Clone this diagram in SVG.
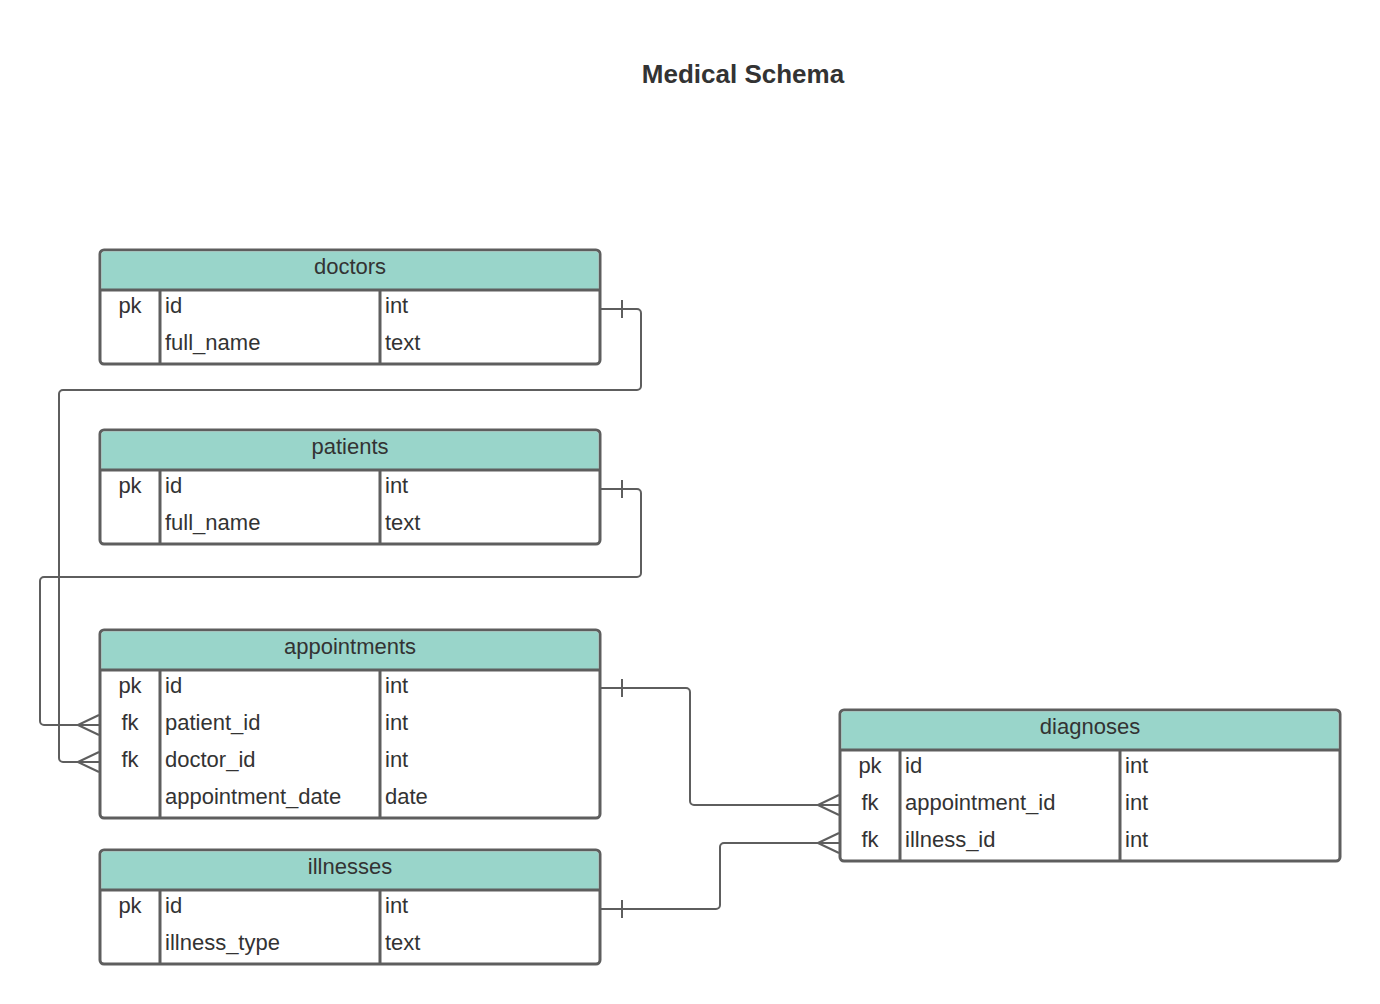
<svg xmlns="http://www.w3.org/2000/svg" width="1380" height="1004" viewBox="0 0 1380 1004">
<style>
.box{fill:#ffffff;stroke:#5e5e5e;stroke-width:3}
.hdr{fill:#99d5ca}
.ln{stroke:#5e5e5e;stroke-width:3;fill:none}
.c{stroke:#5e5e5e;stroke-width:2;fill:none}
text{font-family:"Liberation Sans",Arial,sans-serif;font-size:22px;fill:#333333}
.h{text-anchor:middle}
.t{font-size:26px;font-weight:bold;text-anchor:middle}
</style>
<rect width="1380" height="1004" fill="#ffffff"/>
<text class="t" x="743" y="83">Medical Schema</text>

<g id="doctors">
<rect class="box" x="100" y="250" width="500" height="114" rx="4"/>
<path class="hdr" d="M104 251.5h492a2.5 2.5 0 0 1 2.5 2.5v36h-497v-36a2.5 2.5 0 0 1 2.5-2.5z"/>
<path class="ln" d="M100 290h500M160 290v74M380 290v74"/>
<text class="h" x="350" y="274">doctors</text>
<text class="h" x="130" y="313">pk</text><text x="165" y="313">id</text><text x="385" y="313">int</text>
<text x="165" y="350">full_name</text><text x="385" y="350">text</text>
</g>

<g id="patients">
<rect class="box" x="100" y="430" width="500" height="114" rx="4"/>
<path class="hdr" d="M104 431.5h492a2.5 2.5 0 0 1 2.5 2.5v36h-497v-36a2.5 2.5 0 0 1 2.5-2.5z"/>
<path class="ln" d="M100 470h500M160 470v74M380 470v74"/>
<text class="h" x="350" y="454">patients</text>
<text class="h" x="130" y="493">pk</text><text x="165" y="493">id</text><text x="385" y="493">int</text>
<text x="165" y="530">full_name</text><text x="385" y="530">text</text>
</g>

<g id="appointments">
<rect class="box" x="100" y="630" width="500" height="188" rx="4"/>
<path class="hdr" d="M104 631.5h492a2.5 2.5 0 0 1 2.5 2.5v36h-497v-36a2.5 2.5 0 0 1 2.5-2.5z"/>
<path class="ln" d="M100 670h500M160 670v148M380 670v148"/>
<text class="h" x="350" y="654">appointments</text>
<text class="h" x="130" y="693">pk</text><text x="165" y="693">id</text><text x="385" y="693">int</text>
<text class="h" x="130" y="730">fk</text><text x="165" y="730">patient_id</text><text x="385" y="730">int</text>
<text class="h" x="130" y="767">fk</text><text x="165" y="767">doctor_id</text><text x="385" y="767">int</text>
<text x="165" y="804">appointment_date</text><text x="385" y="804">date</text>
</g>

<g id="illnesses">
<rect class="box" x="100" y="850" width="500" height="114" rx="4"/>
<path class="hdr" d="M104 851.5h492a2.5 2.5 0 0 1 2.5 2.5v36h-497v-36a2.5 2.5 0 0 1 2.5-2.5z"/>
<path class="ln" d="M100 890h500M160 890v74M380 890v74"/>
<text class="h" x="350" y="874">illnesses</text>
<text class="h" x="130" y="913">pk</text><text x="165" y="913">id</text><text x="385" y="913">int</text>
<text x="165" y="950">illness_type</text><text x="385" y="950">text</text>
</g>

<g id="diagnoses">
<rect class="box" x="840" y="710" width="500" height="151" rx="4"/>
<path class="hdr" d="M844 711.5h492a2.5 2.5 0 0 1 2.5 2.5v36h-497v-36a2.5 2.5 0 0 1 2.5-2.5z"/>
<path class="ln" d="M840 750h500M900 750v111M1120 750v111"/>
<text class="h" x="1090" y="734">diagnoses</text>
<text class="h" x="870" y="773">pk</text><text x="905" y="773">id</text><text x="1125" y="773">int</text>
<text class="h" x="870" y="810">fk</text><text x="905" y="810">appointment_id</text><text x="1125" y="810">int</text>
<text class="h" x="870" y="847">fk</text><text x="905" y="847">illness_id</text><text x="1125" y="847">int</text>
</g>

<g id="connectors">
<path class="c" d="M601 309h36a4 4 0 0 1 4 4v73a4 4 0 0 1-4 4H63a4 4 0 0 0-4 4v364a4 4 0 0 0 4 4h36"/>
<path class="c" d="M622 300v18M78 762l21-10M78 762l21 10"/>
<path class="c" d="M601 489h36a4 4 0 0 1 4 4v80a4 4 0 0 1-4 4H44a4 4 0 0 0-4 4v140a4 4 0 0 0 4 4h55"/>
<path class="c" d="M622 480v18M78 725l21-10M78 725l21 10"/>
<path class="c" d="M601 688h85a4 4 0 0 1 4 4v109a4 4 0 0 0 4 4h145"/>
<path class="c" d="M622 679v18M818 805l21-10M818 805l21 10"/>
<path class="c" d="M601 909h115a4 4 0 0 0 4-4v-58a4 4 0 0 1 4-4h115"/>
<path class="c" d="M622 900v18M818 843l21-10M818 843l21 10"/>
</g>
</svg>
